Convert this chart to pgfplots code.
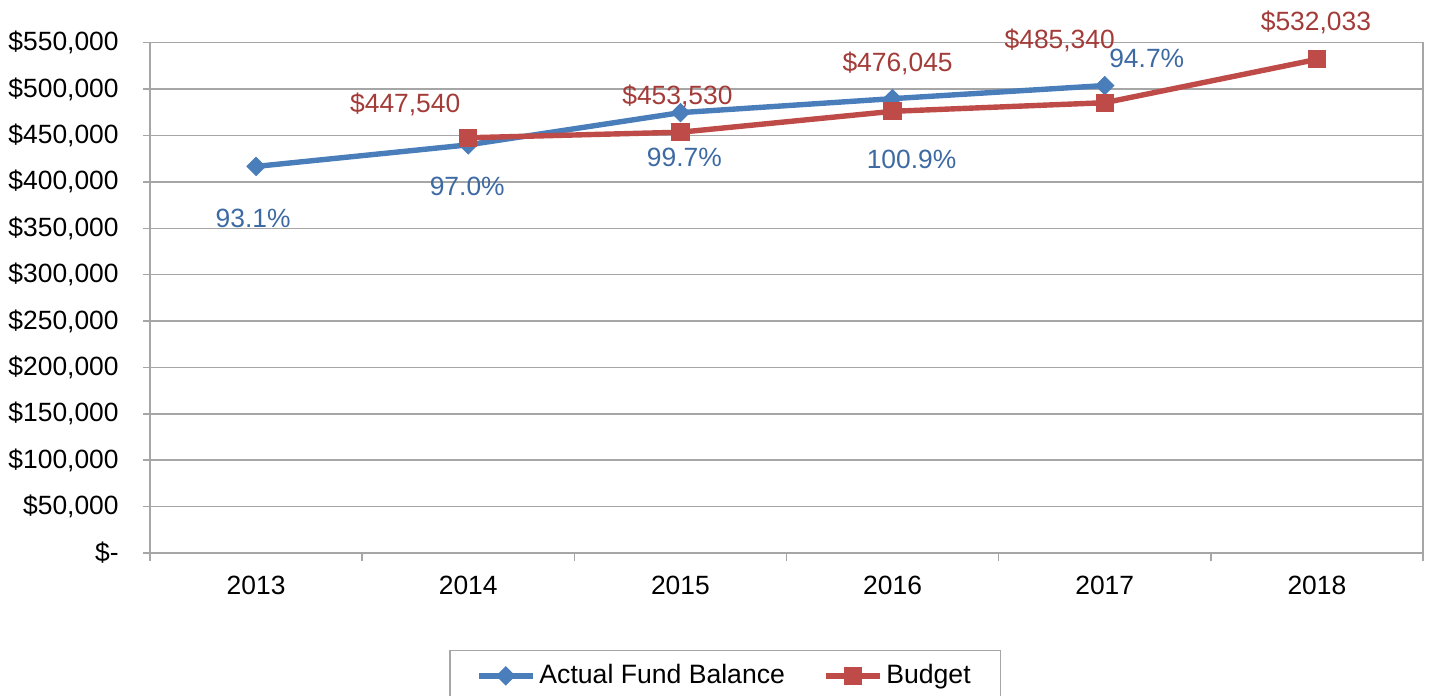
\documentclass[border=0pt]{standalone}
\usepackage{pgfplots}
\pgfplotsset{compat=1.18}
\usepackage{fontspec}
\setmainfont{Liberation Sans}
\definecolor{blueL}{HTML}{4A7EBB}
\definecolor{redL}{HTML}{BE4B48}
\definecolor{blueT}{HTML}{3D6AA3}
\definecolor{redT}{HTML}{A33B38}
\definecolor{gridc}{HTML}{A6A6A6}
\begin{document}
\begin{tikzpicture}
\begin{axis}[
  scale only axis, width=636.5pt, height=255.15pt,
  xmin=-0.5, xmax=5.5, ymin=0, ymax=550000,
  xtick={0,1,2,3,4,5},
  xticklabels={2013,2014,2015,2016,2017,2018},
  minor xtick={-0.5,0.5,1.5,2.5,3.5,4.5,5.5},
  major x tick style={draw=none},
  ytick={0,50000,100000,150000,200000,250000,300000,350000,400000,450000,500000,550000},
  yticklabels={{\$-},{\$50,000},{\$100,000},{\$150,000},{\$200,000},{\$250,000},{\$300,000},{\$350,000},{\$400,000},{\$450,000},{\$500,000},{\$550,000}},
  scaled y ticks=false,
  ymajorgrids, grid style={gridc, line width=0.75pt},
  axis line style={gridc, line width=0.75pt},
  tick style={gridc, line width=0.75pt},
  major tick length=3.5pt, minor tick length=4pt, tick align=outside,
  xtick pos=bottom, ytick pos=left,
  ticklabel style={font=\fontsize{13.2pt}{15.8pt}\selectfont, text=black},
  yticklabel style={anchor=east, inner sep=0pt, xshift=-12pt},
  xticklabel style={anchor=north, inner sep=0pt, yshift=-8pt},
  legend style={at={(0.452,-0.19)}, anchor=north, draw=gridc, line width=0.75pt,
    font=\fontsize{13.3pt}{16pt}\selectfont, inner xsep=13pt, inner ysep=5pt,
    /tikz/every even column/.append style={column sep=17pt}},
  legend columns=2, legend cell align=left,
  legend image code/.code={\draw[mark repeat=2,mark phase=2,#1] plot coordinates {(0pt,0pt)(13.5pt,0pt)(27pt,0pt)};},
  clip=false,
]
\addplot[blueL, line width=2.7pt, mark=square*, mark size=3.2pt, mark options={rotate=45, solid, line width=0.5pt}]
  coordinates {(0,416660)(1,439900)(2,474617)(3,489708)(4,503835)};
\addlegendentry{Actual Fund Balance}
\addplot[redL, line width=2.7pt, mark=square*, mark size=4.3pt, mark options={solid, line width=0.5pt}]
  coordinates {(1,447540)(2,453530)(3,476045)(4,485340)(5,532033)};
\addlegendentry{Budget}
\coordinate (O) at (rel axis cs:0,0);
\begin{scope}[every node/.style={font=\fontsize{13.2pt}{15.8pt}\selectfont, inner sep=0pt}]
\node[text=blueT, xshift=-1.5pt, yshift=-26pt] at (axis cs:0,416660) {93.1\%};
\node[text=blueT, xshift=-0.5pt, yshift=-21pt] at (axis cs:1,439900) {97.0\%};
\node[text=blueT, xshift=2pt, yshift=-22.5pt] at (axis cs:2,474617) {99.7\%};
\node[text=blueT, xshift=9.5pt, yshift=-30.5pt] at (axis cs:3,489708) {100.9\%};
\node[text=blueT, xshift=21pt, yshift=13.5pt] at (axis cs:4,503835) {94.7\%};
\node[text=redT, xshift=-31.5pt, yshift=16.5pt] at (axis cs:1,447540) {\$447,540};
\node[text=redT, xshift=-1.5pt, yshift=18pt] at (axis cs:2,453530) {\$453,530};
\node[text=redT, xshift=2.5pt, yshift=24pt] at (axis cs:3,476045) {\$476,045};
\node[text=redT, xshift=-22.5pt, yshift=31pt] at (axis cs:4,485340) {\$485,340};
\node[text=redT, xshift=-0.5pt, yshift=18.5pt] at (axis cs:5,532033) {\$532,033};
\end{scope}
\end{axis}
\pgfresetboundingbox
\path[use as bounding box] (O) ++(-75pt,-71.5pt) rectangle ++(715pt,348pt);
\end{tikzpicture}
\end{document}
